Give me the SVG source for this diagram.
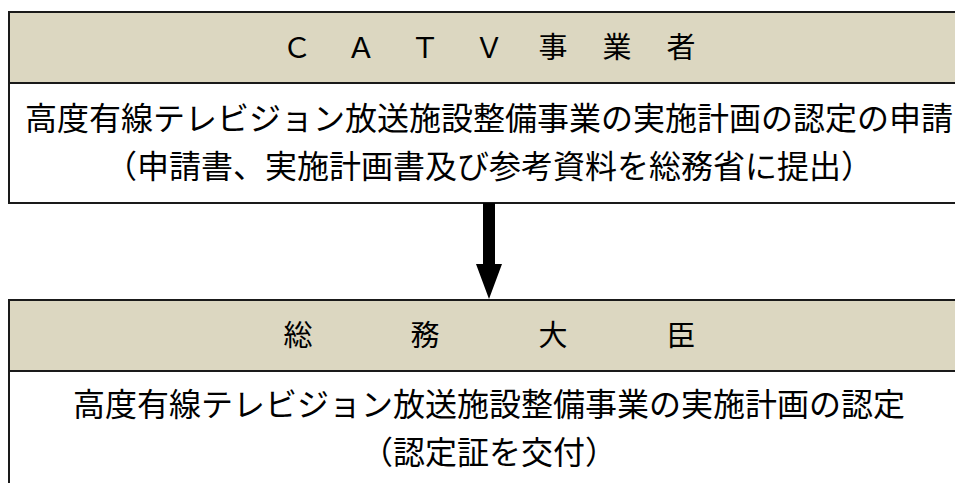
<svg xmlns="http://www.w3.org/2000/svg" width="955" height="483" viewBox="0 0 955 483">
<style>
.hdr{fill:#DCD7C1;stroke:#1a1a1a;stroke-width:2}
.body{fill:#ffffff;stroke:#1a1a1a;stroke-width:2}
text{font-family:"Noto Sans CJK JP","Noto Sans",sans-serif;fill:#000}
.h{font-size:29px;text-anchor:middle}
.t{font-size:32px;text-anchor:middle}
</style>
<rect width="955" height="483" fill="#ffffff"/>
<g id="catv">
<rect class="body" x="9" y="12" width="960" height="191"/>
<rect class="hdr" x="9" y="12" width="960" height="71"/>
<text class="h" x="297 361 425 489 553 617 681" y="58">ＣＡＴＶ事業者</text>
<text class="t" x="489" y="130">高度有線テレビジョン放送施設整備事業の実施計画の認定の申請</text>
<text class="t" x="489" y="178">（申請書、実施計画書及び参考資料を総務省に提出）</text>
</g>
<g id="minister">
<rect class="body" x="9" y="300" width="960" height="200"/>
<rect class="hdr" x="9" y="300" width="960" height="71"/>
<text class="h" x="298 425 553 681" y="346">総務大臣</text>
<text class="t" x="489" y="416">高度有線テレビジョン放送施設整備事業の実施計画の認定</text>
<text class="t" x="489" y="464">（認定証を交付）</text>
</g>
<g id="connectors">
<polygon points="483,203 495,203 495,264 502,264 489,299 476,264 483,264" fill="#000"/>
</g>
</svg>
